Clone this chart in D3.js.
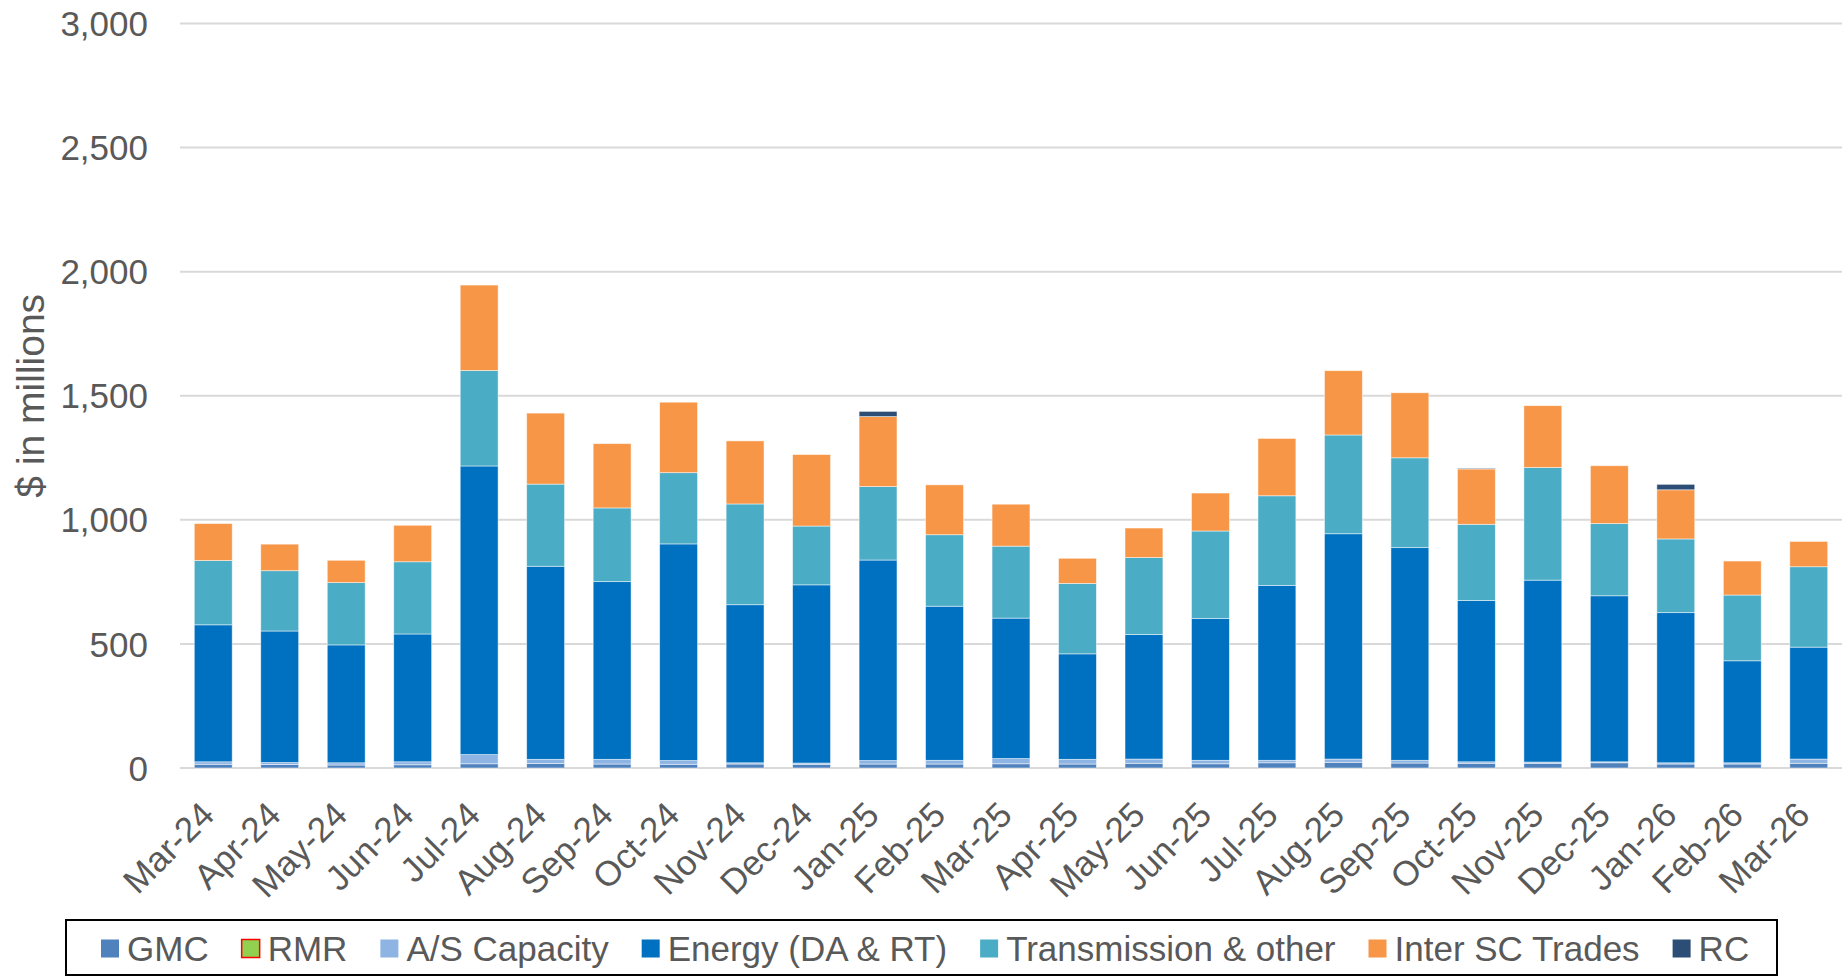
<!DOCTYPE html>
<html>
<head>
<meta charset="utf-8">
<script src="https://cdn.jsdelivr.net/npm/d3@7"></script>
<style>
  html, body { margin: 0; padding: 0; background: #fff; }
  svg { display: block; font-family: "Liberation Sans", Arial, sans-serif; }
</style>
</head>
<body>
<div id="viz"></div>
<script>
const months = ["Mar-24", "Apr-24", "May-24", "Jun-24", "Jul-24", "Aug-24", "Sep-24", "Oct-24",
  "Nov-24", "Dec-24", "Jan-25", "Feb-25", "Mar-25", "Apr-25", "May-25", "Jun-25", "Jul-25",
  "Aug-25", "Sep-25", "Oct-25", "Nov-25", "Dec-25", "Jan-26", "Feb-26", "Mar-26"];

const seriesNames = ["GMC", "RMR", "A/S Capacity", "Energy (DA & RT)", "Transmission & other", "Inter SC Trades", "RC"];

// $ millions
const gmc = [15, 14, 12, 13, 17, 18, 16, 15, 16, 15, 16, 16, 17, 16, 19, 17, 21, 23, 20, 19, 19, 21, 16, 16, 19];
const rmr = [0, 0, 0, 0, 0, 0, 0, 0, 0, 0, 0, 0, 0, 0, 0, 0, 0, 0, 0, 0, 0, 0, 0, 0, 0];
const asCapacity = [10, 8, 9, 12, 37, 17, 19, 15, 5, 5, 14, 15, 21, 19, 17, 14, 10, 13, 11, 6, 5, 4, 5, 5, 17];
const energy = [552, 530, 475, 515, 1163, 778, 716, 873, 637, 718, 808, 621, 566, 425, 502, 572, 705, 908, 857, 650, 733, 669, 605, 411, 451];
const transmission = [259, 243, 251, 291, 385, 331, 297, 287, 406, 237, 296, 288, 290, 284, 310, 352, 361, 398, 362, 307, 454, 291, 297, 265, 324];
const interSC = [149, 107, 90, 147, 344, 286, 259, 284, 254, 288, 282, 201, 169, 101, 119, 153, 231, 259, 262, 223, 249, 233, 198, 137, 102];
const rc = [0, 0, 0, 0, 0, 0, 0, 0, 0, 0, 21, 0, 0, 0, 0, 0, 0, 0, 0, 3, 0, 0, 22, 0, 0];

const yTicks = [0, 500, 1000, 1500, 2000, 2500, 3000];

const colors = {
  "GMC": "#4f81bd",
  "RMR": "#92d050",
  "A/S Capacity": "#8db4e2",
  "Energy (DA & RT)": "#0070c0",
  "Transmission & other": "#4bacc6",
  "Inter SC Trades": "#f79646",
  "RC": "#2c4d75"
};

const width = 1845, height = 976;
const margin = { top: 23.5, right: 3, bottom: 208, left: 180 };
const fontSize = 35;

const seriesValues = [gmc, rmr, asCapacity, energy, transmission, interSC, rc];
const rows = months.map((m, i) => {
  const r = { month: m };
  seriesNames.forEach((s, j) => r[s] = seriesValues[j][i]);
  return r;
});

const stack = d3.stack().keys(seriesNames)(rows);

const svg = d3.select("#viz").append("svg")
  .attr("width", width)
  .attr("height", height);

const x = d3.scaleBand()
  .domain(months)
  .range([margin.left, width - margin.right])
  .paddingInner(0.43)
  .paddingOuter(0.215);

const y = d3.scaleLinear()
  .domain([0, 3000])
  .range([height - margin.bottom, margin.top]);

// gridlines
svg.append("g")
  .selectAll("line")
  .data(yTicks)
  .join("line")
  .attr("x1", margin.left)
  .attr("x2", width - margin.right)
  .attr("y1", d => y(d))
  .attr("y2", d => y(d))
  .attr("stroke", "#d9d9d9")
  .attr("stroke-width", 2);

// y tick labels
svg.append("g")
  .selectAll("text")
  .data(yTicks)
  .join("text")
  .attr("x", 148)
  .attr("y", d => y(d))
  .attr("dy", "0.36em")
  .attr("text-anchor", "end")
  .attr("font-size", fontSize)
  .attr("fill", "#595959")
  .text(d3.format(","));

// y title
svg.append("text")
  .attr("transform", `translate(44,${(y(0) + y(3000)) / 2}) rotate(-90)`)
  .attr("text-anchor", "middle")
  .attr("font-size", 39)
  .attr("fill", "#595959")
  .text("$ in millions");

// bars
svg.append("g")
  .selectAll("g")
  .data(stack)
  .join("g")
  .attr("fill", d => colors[d.key])
  .selectAll("rect")
  .data(d => d.filter(p => p[1] > p[0]))
  .join("rect")
  .attr("x", d => x(d.data.month))
  .attr("width", x.bandwidth())
  .attr("y", d => y(d[1]))
  .attr("height", d => y(d[0]) - y(d[1]))
  .attr("stroke", "#fff")
  .attr("stroke-width", 0.8)
  .attr("stroke-opacity", 0.6);

// x labels
svg.append("g")
  .selectAll("text")
  .data(months)
  .join("text")
  .attr("transform", d => `translate(${x(d) + x.bandwidth() / 2 + 3},${y(0) + 49}) rotate(-45)`)
  .attr("text-anchor", "end")
  .attr("font-size", fontSize)
  .attr("fill", "#595959")
  .text(d => d);

// legend
const box = { x: 66, y: 920, w: 1711, h: 55 };
const legend = svg.append("g");
legend.append("rect")
  .attr("x", box.x)
  .attr("y", box.y)
  .attr("width", box.w)
  .attr("height", box.h)
  .attr("fill", "#fff")
  .attr("stroke", "#000")
  .attr("stroke-width", 2);

const sw = 18, textGap = 8, itemGap = 33;
const items = legend.selectAll("g.item")
  .data(seriesNames)
  .join("g")
  .attr("class", "item");

items.append("rect")
  .attr("width", sw)
  .attr("height", sw)
  .attr("y", box.y + box.h / 2 - sw / 2 + 1)
  .attr("fill", d => colors[d])
  .attr("stroke", d => d === "RMR" ? "#ff0000" : "none")
  .attr("stroke-width", 1.5);

items.append("text")
  .attr("x", sw + textGap)
  .attr("y", box.y + box.h / 2 + 1)
  .attr("dy", "0.36em")
  .attr("font-size", fontSize)
  .attr("fill", "#595959")
  .text(d => d);

let cx = box.x + 35;
items.each(function () {
  const g = d3.select(this);
  g.attr("transform", `translate(${cx},0)`);
  cx += sw + textGap + g.select("text").node().getComputedTextLength() + itemGap;
});
</script>
</body>
</html>
